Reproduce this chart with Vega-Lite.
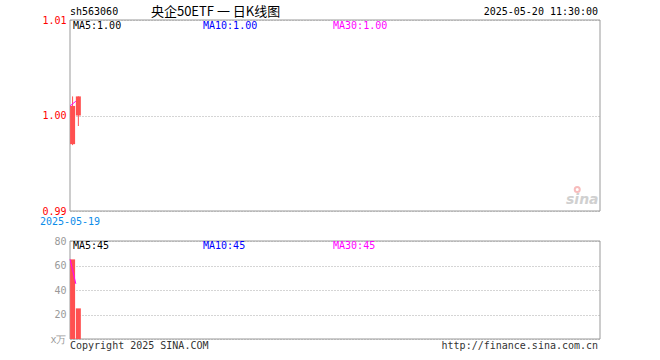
{
  "$schema": "https://vega.github.io/schema/vega-lite/v6.json",
  "autosize": {"type": "none"},
  "padding": {"left": 70, "top": 20, "right": 60, "bottom": 21},
  "width": 530,
  "height": 319,
  "background": "white",
  "config": {
    "view": {"stroke": null},
    "scale": {"continuousPadding": 0},
    "font": "DejaVu Sans Mono",
    "axis": {"title": null, "labelFont": "DejaVu Sans Mono", "labelFontSize": 10, "ticks": false, "domain": false, "gridColor": "#aaa", "gridDash": [1, 2], "labelPadding": 4}
  },
  "datasets": {
    "k": [
      {"date": "2025-05-19", "i": 0, "open": 0.997, "close": 1.001, "high": 1.002, "low": 0.9969, "ma": 1.001, "vol": 65, "vma": 65},
      {"date": "2025-05-20", "i": 1, "open": 1.0, "close": 1.002, "high": 1.002, "low": 0.9989, "ma": 1.0015, "vol": 25, "vma": 45}
    ]
  },
  "resolve": {"scale": {"y": "independent"}, "axis": {"y": "independent"}},
  "layer": [
    {
      "data": {"name": "k"},
      "layer": [
        {
          "data": {"values": [{"a": 1}]},
          "mark": {"type": "rect", "fill": null, "stroke": "#999", "strokeWidth": 1},
          "encoding": {
            "x": {"datum": -0.45, "type": "quantitative", "scale": {"domain": [-0.45, 91.55], "nice": false, "zero": false, "padding": 0}, "axis": null},
            "x2": {"datum": 91.55},
            "y": {"datum": 0.99, "type": "quantitative", "scale": {"domain": [0.99, 1.01], "range": [191, 0], "nice": false, "zero": false, "padding": 0}, "axis": {"values": [0.99, 1.0, 1.01], "format": ".2f", "labelColor": "#ff0000", "grid": true, "orient": "left"}},
            "y2": {"datum": 1.01}
          }
        },
        {
          "mark": {"type": "rule", "color": "#ff5050", "strokeWidth": 1},
          "encoding": {
            "x": {"field": "i", "type": "quantitative"},
            "y": {"field": "low", "type": "quantitative"},
            "y2": {"field": "high"}
          }
        },
        {
          "mark": {"type": "bar", "color": "#ff5050", "size": 5},
          "encoding": {
            "x": {"field": "i", "type": "quantitative"},
            "y": {"field": "open", "type": "quantitative"},
            "y2": {"field": "close"}
          }
        },
        {
          "mark": {"type": "line", "color": "#ff00ff", "strokeWidth": 1, "xOffset": -2.5},
          "encoding": {
            "x": {"field": "i", "type": "quantitative"},
            "y": {"field": "ma", "type": "quantitative"}
          }
        },
        {
          "data": {"values": [{"t": "sh563060"}]},
          "mark": {"type": "text", "align": "left", "baseline": "middle", "fontSize": 10, "color": "#000"},
          "encoding": {"x": {"datum": -0.45}, "y": {"datum": 1.01084}, "text": {"field": "t"}}
        },
        {
          "data": {"values": [{"t": "央企50ETF 一 日K线图"}]},
          "mark": {"type": "text", "align": "left", "baseline": "middle", "fontSize": 13, "font": "Noto Sans CJK SC", "color": "#000"},
          "encoding": {"x": {"datum": 13.6}, "y": {"datum": 1.01084}, "text": {"field": "t"}}
        },
        {
          "data": {"values": [{"t": "2025-05-20 11:30:00"}]},
          "mark": {"type": "text", "align": "right", "baseline": "middle", "fontSize": 10, "color": "#000"},
          "encoding": {"x": {"datum": 91.22}, "y": {"datum": 1.01084}, "text": {"field": "t"}}
        },
        {
          "data": {"values": [{"t": "MA5:1.00"}]},
          "mark": {"type": "text", "align": "left", "baseline": "middle", "fontSize": 10, "color": "#000"},
          "encoding": {"x": {"datum": 0.07}, "y": {"datum": 1.00937}, "text": {"field": "t"}}
        },
        {
          "data": {"values": [{"t": "MA10:1.00"}]},
          "mark": {"type": "text", "align": "left", "baseline": "middle", "fontSize": 10, "color": "#0000ff"},
          "encoding": {"x": {"datum": 22.64}, "y": {"datum": 1.00937}, "text": {"field": "t"}}
        },
        {
          "data": {"values": [{"t": "MA30:1.00"}]},
          "mark": {"type": "text", "align": "left", "baseline": "middle", "fontSize": 10, "color": "#ff00ff"},
          "encoding": {"x": {"datum": 45.21}, "y": {"datum": 1.00937}, "text": {"field": "t"}}
        },
        {
          "data": {"values": [{"t": "2025-05-19"}]},
          "mark": {"type": "text", "align": "center", "baseline": "middle", "fontSize": 10, "color": "#0b8ce9"},
          "encoding": {"x": {"datum": -0.45}, "y": {"datum": 0.98888}, "text": {"field": "t"}}
        },
        {
          "data": {"values": [{"t": "sina"}]},
          "mark": {"type": "text", "align": "right", "baseline": "middle", "fontSize": 14, "font": "DejaVu Sans", "fontWeight": "bold", "fontStyle": "italic", "color": "#d0d0d0"},
          "encoding": {"x": {"datum": 91.3}, "y": {"datum": 0.99115}, "text": {"field": "t"}}
        },
        {
          "data": {"values": [{"a": 1}]},
          "mark": {"type": "point", "shape": "circle", "filled": false, "stroke": "#f4a0a0", "strokeWidth": 2, "size": 25},
          "encoding": {"x": {"datum": 87.6}, "y": {"datum": 0.99225}}
        }
      ]
    },
    {
      "data": {"name": "k"},
      "layer": [
        {
          "data": {"values": [{"a": 1}]},
          "mark": {"type": "rect", "fill": null, "stroke": "#999", "strokeWidth": 1},
          "encoding": {
            "x": {"datum": -0.45, "type": "quantitative"},
            "x2": {"datum": 91.55},
            "y": {"datum": 0, "type": "quantitative", "scale": {"domain": [0, 80], "range": [319, 221], "nice": false, "padding": 0}, "axis": {"values": [0, 20, 40, 60, 80], "labelColor": "#999", "grid": true, "orient": "left", "labelExpr": "datum.value == 0 ? 'x万' : datum.label"}},
            "y2": {"datum": 80}
          }
        },
        {
          "mark": {"type": "bar", "color": "#ff5050", "size": 5},
          "encoding": {
            "x": {"field": "i", "type": "quantitative"},
            "y": {"field": "vol", "type": "quantitative"}
          }
        },
        {
          "mark": {"type": "line", "color": "#ff00ff", "strokeWidth": 1, "xOffset": -2.5},
          "encoding": {
            "x": {"field": "i", "type": "quantitative"},
            "y": {"field": "vma", "type": "quantitative"}
          }
        },
        {
          "data": {"values": [{"t": "MA5:45"}]},
          "mark": {"type": "text", "align": "left", "baseline": "middle", "fontSize": 10, "color": "#000"},
          "encoding": {"x": {"datum": 0.07}, "y": {"datum": 75.9}, "text": {"field": "t"}}
        },
        {
          "data": {"values": [{"t": "MA10:45"}]},
          "mark": {"type": "text", "align": "left", "baseline": "middle", "fontSize": 10, "color": "#0000ff"},
          "encoding": {"x": {"datum": 22.64}, "y": {"datum": 75.9}, "text": {"field": "t"}}
        },
        {
          "data": {"values": [{"t": "MA30:45"}]},
          "mark": {"type": "text", "align": "left", "baseline": "middle", "fontSize": 10, "color": "#ff00ff"},
          "encoding": {"x": {"datum": 45.21}, "y": {"datum": 75.9}, "text": {"field": "t"}}
        },
        {
          "data": {"values": [{"t": "Copyright 2025 SINA.COM"}]},
          "mark": {"type": "text", "align": "left", "baseline": "middle", "fontSize": 10, "color": "#333"},
          "encoding": {"x": {"datum": -0.45}, "y": {"datum": -5.7}, "text": {"field": "t"}}
        },
        {
          "data": {"values": [{"t": "http://finance.sina.com.cn"}]},
          "mark": {"type": "text", "align": "right", "baseline": "middle", "fontSize": 10, "color": "#333"},
          "encoding": {"x": {"datum": 91.22}, "y": {"datum": -5.7}, "text": {"field": "t"}}
        }
      ]
    }
  ]
}
